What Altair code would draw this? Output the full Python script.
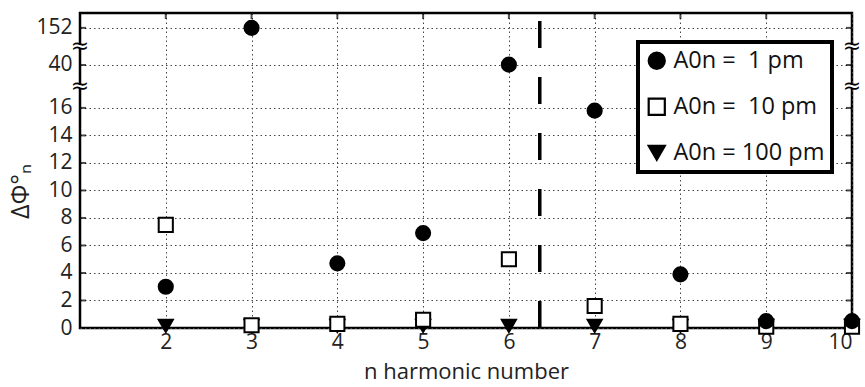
import altair as alt
import pandas as pd

# ---- data ----
harmonics = [2, 3, 4, 5, 6, 7, 8, 9, 10]
dphi_1pm = [3.0, 152.0, 4.7, 6.9, 41.0, 15.8, 3.9, 0.5, 0.5]
dphi_10pm = [7.5, 0.2, 0.3, 0.6, 5.0, 1.6, 0.3, 0.1, 0.1]
dphi_100pm = [0.15, 0.15, 0.15, 0.15, 0.15, 0.15, 0.15, 0.15, 0.15]
series_names = ["A0n =\u00a0\u00a01 pm", "A0n =\u00a0\u00a010 pm", "A0n = 100 pm"]
y_ticks = [0, 2, 4, 6, 8, 10, 12, 14, 16, 40, 152]
x_ticks = [2, 3, 4, 5, 6, 7, 8, 9, 10]
axis_breaks = [28, 96]
threshold_n = 6.36


# broken y axis: linear 0-16, then compressed segments 16-40 and 40-152
def broken(v):
    if v <= 16:
        return v
    if v <= 40:
        return 16 + (v - 16) * 3.12 / 24
    return 19.12 + (v - 40) * 2.7 / 112


rows = []
for name, vals in [(series_names[2], dphi_100pm), (series_names[1], dphi_10pm), (series_names[0], dphi_1pm)]:
    for n, v in zip(harmonics, vals):
        rows.append({"n": n, "v": v, "yd": broken(v), "series": name})
df = pd.DataFrame(rows)

W, H = 772, 315
FONT = "Open Sans"
YMAX = 22.9

xscale = alt.Scale(domain=[1, 10], nice=False, zero=False)
yscale = alt.Scale(domain=[0, YMAX], nice=False, zero=False)

x_axis = alt.Axis(values=x_ticks, title="n harmonic number", titleFontSize=22, titlePadding=9,
                  labelPadding=3, labelFontSize=21, grid=True)
y_axis = alt.Axis(values=[broken(v) for v in y_ticks],
                  labelExpr="datum.value > 21 ? '152' : datum.value > 18 ? '40' : datum.label",
                  title="ΔΦ°ₙ", titleFontSize=25, labelPadding=8, titlePadding=2, labelFontSize=21,
                  titleY=178, grid=True)

legend = alt.Legend(
    orient="none", legendX=558, legendY=29, title=None,
    strokeColor="black", fillColor="white", padding=7,
    labelFont=FONT, labelFontSize=23.5, labelColor="#111", labelOffset=5,
    symbolSize=260, symbolStrokeWidth=2.2, symbolStrokeColor="black",
    rowPadding=20,
)

points = alt.Chart(df).mark_point(filled=False, size=200, strokeWidth=2, opacity=1).encode(
    x=alt.X("n:Q", scale=xscale, axis=x_axis),
    y=alt.Y("yd:Q", scale=yscale, axis=y_axis),
    stroke=alt.Stroke("series:N", scale=alt.Scale(domain=series_names, range=["black", "black", "black"]),
                      legend=legend),
    shape=alt.Shape("series:N", scale=alt.Scale(domain=series_names, range=["circle", "square", "triangle-down"]),
                    legend=legend),
    fill=alt.Fill("series:N", scale=alt.Scale(domain=series_names, range=["black", "white", "black"]),
                  legend=legend),
)

rule = alt.Chart(pd.DataFrame({"n": [threshold_n]})).mark_rule(
    strokeWidth=3.5, strokeDash=[27, 29], color="black"
).encode(x=alt.X("n:Q", scale=xscale, axis=x_axis), y=alt.value(8), y2=alt.value(H))

ytick_df = pd.DataFrame({"yd": [broken(v) for v in y_ticks[1:]]})
xtick_df = pd.DataFrame({"n": x_ticks[:-1]})

left_ticks = alt.Chart(ytick_df).mark_tick(orient="horizontal", size=6, thickness=2, color="black").encode(
    y=alt.Y("yd:Q", scale=yscale, axis=y_axis), x=alt.value(3))
right_ticks = alt.Chart(ytick_df).mark_tick(orient="horizontal", size=6, thickness=2, color="black").encode(
    y=alt.Y("yd:Q", scale=yscale, axis=y_axis), x=alt.value(W - 3))
top_ticks = alt.Chart(xtick_df).mark_tick(orient="vertical", size=6, thickness=2, color="black").encode(
    x=alt.X("n:Q", scale=xscale, axis=x_axis), y=alt.value(3))

brk_df = pd.DataFrame({
    "yd": [broken(b) for b in axis_breaks],
    "lo": [broken(b) - 0.12 for b in axis_breaks],
    "hi": [broken(b) + 0.12 for b in axis_breaks],
})
extras = []
for xpix in [0, W]:
    extras.append(alt.Chart(brk_df).mark_rule(color="white", strokeWidth=6).encode(
        y=alt.Y("lo:Q", scale=yscale, axis=y_axis), y2="hi:Q", x=alt.value(xpix)))
    extras.append(alt.Chart(brk_df).mark_text(text="≈", fontSize=22, font="DejaVu Sans", color="black",
                                              baseline="middle", align="center").encode(
        y=alt.Y("yd:Q", scale=yscale, axis=y_axis), x=alt.value(xpix)))

chart = alt.layer(
    points, rule, left_ticks, right_ticks, top_ticks, *extras
).properties(
    width=W, height=H,
    padding={"left": 80, "top": 13, "right": 13, "bottom": 59},
    autosize=alt.AutoSizeParams(type="none"),
    background="white",
).configure_view(
    stroke="black", strokeWidth=2.5
).configure_axis(
    gridDash=[1.5, 3], gridColor="#444", gridWidth=1,
    domain=False, ticks=False,
    labelFont=FONT, labelColor="#222",
    titleFont=FONT, titleFontWeight="normal", titleColor="#222",
).configure_legend(
    strokeWidth=4
)

chart.save("out.html", embed_options={"renderer": "svg", "actions": False})
